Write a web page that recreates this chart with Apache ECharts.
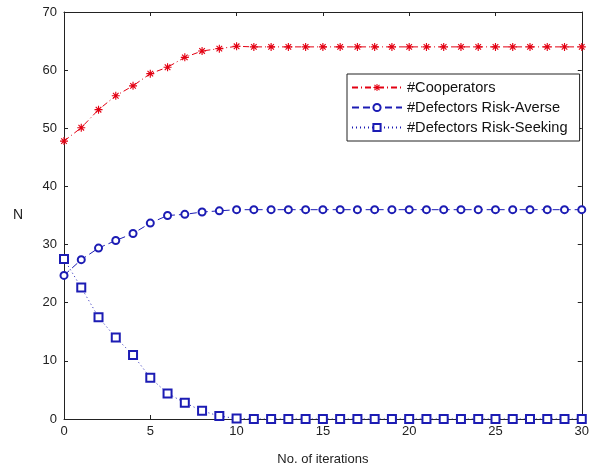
<!DOCTYPE html>
<html>
<head>
<meta charset="utf-8">
<script src="https://cdn.jsdelivr.net/npm/echarts@6/dist/echarts.min.js"></script>
<style>
  html, body { margin: 0; padding: 0; background: #fff; }
  #chart { width: 592px; height: 471px; }
</style>
</head>
<body>
<div id="chart"></div>
<script>
// Iteration index 0..30
const iterations = Array.from({ length: 31 }, (_, i) => i);

const cooperators = [47.8, 50.1, 53.2, 55.6, 57.3, 59.4, 60.5, 62.2, 63.3, 63.7, 64.1,
  64, 64, 64, 64, 64, 64, 64, 64, 64, 64, 64, 64, 64, 64, 64, 64, 64, 64, 64, 64];
const riskAverse = [24.7, 27.4, 29.4, 30.7, 31.9, 33.7, 35.0, 35.2, 35.6, 35.8, 36,
  36, 36, 36, 36, 36, 36, 36, 36, 36, 36, 36, 36, 36, 36, 36, 36, 36, 36, 36, 36];
const riskSeeking = [27.5, 22.6, 17.5, 14.0, 11.0, 7.1, 4.4, 2.8, 1.4, 0.5, 0.1,
  0, 0, 0, 0, 0, 0, 0, 0, 0, 0, 0, 0, 0, 0, 0, 0, 0, 0, 0, 0];

const seriesNames = ['#Cooperators', '#Defectors Risk-Averse', '#Defectors Risk-Seeking'];
const xTicks = { min: 0, max: 30, interval: 5 };
const yTicks = { min: 0, max: 70, interval: 10 };

const RED = '#e30012';
const BLUE = '#1c1cb4';
const INK = '#222';
const FONT = 'Liberation Sans, Arial, sans-serif';

// Eight-spoke asterisk marker built from four thin bars
const asterisk = 'path://' +
  'M-14,-100 L14,-100 L14,100 L-14,100 Z ' +
  'M-100,14 L-100,-14 L100,-14 L100,14 Z ' +
  'M-80,-60 L-60,-80 L80,60 L60,80 Z ' +
  'M-60,80 L-80,60 L60,-80 L80,-60 Z';

const pairs = (ys) => iterations.map((x, i) => [x, ys[i]]);

const chart = echarts.init(document.getElementById('chart'), null, { renderer: 'canvas' });

const baseAxis = {
  axisLine: { show: true, onZero: false, lineStyle: { color: INK, width: 1 } },
  axisTick: { show: true, inside: true, length: 4, lineStyle: { color: INK } },
  splitLine: { show: false },
};

chart.setOption({
  animation: false,
  backgroundColor: '#fff',
  textStyle: { fontFamily: FONT },
  grid: { left: 64, right: 7, top: 12, bottom: 48 },
  legend: {
    orient: 'vertical',
    left: 347,
    top: 74,
    padding: [6, 12, 6, 4],
    itemGap: 5,
    itemWidth: 50,
    itemHeight: 9,
    borderColor: INK,
    borderWidth: 1,
    backgroundColor: '#fff',
    borderRadius: 0,
    textStyle: { fontSize: 14.6, color: '#111', fontFamily: FONT, lineHeight: 15, padding: [0, 0, 0, 0] },
    data: seriesNames,
  },
  xAxis: [
    Object.assign({}, baseAxis, {
      type: 'value', position: 'bottom',
      min: xTicks.min, max: xTicks.max, interval: xTicks.interval,
      name: 'No. of iterations', nameLocation: 'middle', nameGap: 34,
      nameTextStyle: { fontSize: 13, color: INK, fontFamily: FONT },
      axisLabel: { fontSize: 13, color: INK, margin: 6, fontFamily: FONT },
    }),
    Object.assign({}, baseAxis, {
      type: 'value', position: 'top',
      min: xTicks.min, max: xTicks.max, interval: xTicks.interval,
      axisLabel: { show: false },
    }),
  ],
  yAxis: [
    Object.assign({}, baseAxis, {
      type: 'value', position: 'left',
      min: yTicks.min, max: yTicks.max, interval: yTicks.interval,
      name: 'N', nameLocation: 'middle', nameGap: 41, nameRotate: 0,
      nameTextStyle: { fontSize: 14, color: INK, fontFamily: FONT, padding: [5, 0, 0, 0] },
      axisLabel: { fontSize: 13, color: INK, margin: 7, fontFamily: FONT },
    }),
    Object.assign({}, baseAxis, {
      type: 'value', position: 'right',
      min: yTicks.min, max: yTicks.max, interval: yTicks.interval,
      axisLabel: { show: false },
    }),
  ],
  series: [
    {
      name: seriesNames[0], type: 'line', xAxisIndex: 0, yAxisIndex: 0,
      data: pairs(cooperators),
      symbol: asterisk, symbolSize: 8, showAllSymbol: true,
      itemStyle: { color: RED },
      lineStyle: { color: RED, width: 1, type: [6, 3, 1, 3] },
    },
    {
      name: seriesNames[1], type: 'line', xAxisIndex: 0, yAxisIndex: 0,
      data: pairs(riskAverse),
      symbol: 'emptyCircle', symbolSize: 7, showAllSymbol: true,
      itemStyle: { color: BLUE, borderWidth: 1 },
      lineStyle: { color: BLUE, width: 1, type: [7, 4] },
    },
    {
      name: seriesNames[2], type: 'line', xAxisIndex: 0, yAxisIndex: 0,
      data: pairs(riskSeeking),
      symbol: 'emptyRect', symbolSize: 8, showAllSymbol: true,
      itemStyle: { color: BLUE, borderWidth: 1 },
      lineStyle: { color: BLUE, width: 1, type: [1, 3] },
    },
  ],
});
</script>
</body>
</html>
